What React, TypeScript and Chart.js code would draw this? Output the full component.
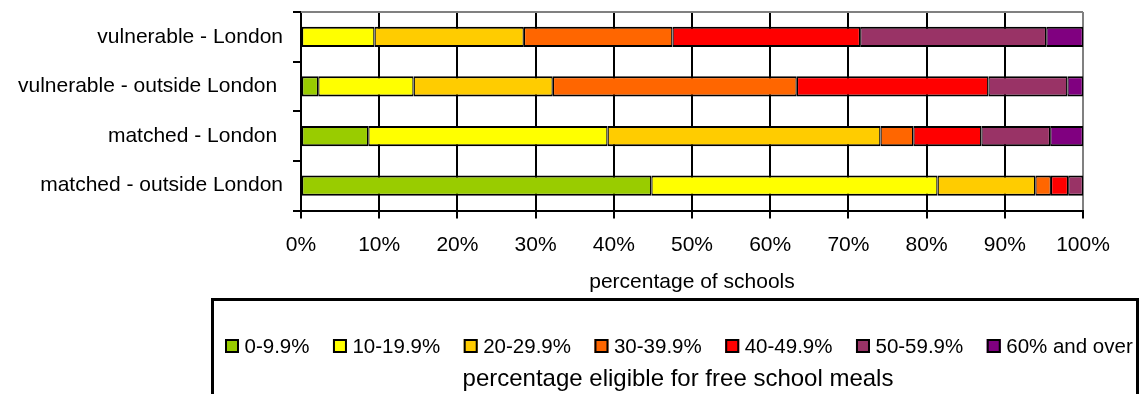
import React, { useEffect, useRef } from "react";
import { Chart, registerables } from "chart.js";

Chart.register(...registerables);

const categories = [
  "vulnerable - London",
  "vulnerable - outside London ",
  "matched - London ",
  "matched - outside London",
];

const bandLabels = [
  "0-9.9%",
  "10-19.9%",
  "20-29.9%",
  "30-39.9%",
  "40-49.9%",
  "50-59.9%",
  "60% and over",
];

const fsm0to9 = [0, 2.2, 8.6, 44.8];
const fsm10to19 = [9.4, 12.2, 30.6, 36.6];
const fsm20to29 = [19.1, 17.8, 34.9, 12.5];
const fsm30to39 = [19.0, 31.2, 4.2, 2.0];
const fsm40to49 = [24.0, 24.5, 8.7, 2.2];
const fsm50to59 = [23.8, 10.1, 8.8, 1.9];
const fsm60plus = [4.7, 2.0, 4.2, 0];

const seriesValues = [fsm0to9, fsm10to19, fsm20to29, fsm30to39, fsm40to49, fsm50to59, fsm60plus];
const bandColors = ["#99CC00", "#FFFF00", "#FFCC00", "#FF6600", "#FF0000", "#993366", "#800080"];

const xTickValues = [0, 10, 20, 30, 40, 50, 60, 70, 80, 90, 100];
const xAxisTitle = "percentage of schools";
const legendTitle = "percentage eligible for free school meals";

const FONT = '"Liberation Sans", Arial, sans-serif';

const frameAndLegend = {
  id: "frameAndLegend",
  beforeDatasetsDraw(chart: any) {
    const { ctx, chartArea } = chart;
    ctx.save();
    ctx.strokeStyle = "#808080";
    ctx.lineWidth = 2;
    ctx.beginPath();
    ctx.moveTo(chartArea.left, chartArea.top);
    ctx.lineTo(chartArea.right, chartArea.top);
    ctx.stroke();
    ctx.restore();
  },
  afterDraw(chart: any) {
    const ctx = chart.ctx;
    ctx.save();
    ctx.strokeStyle = "#000";
    ctx.lineWidth = 3;
    ctx.strokeRect(212.5, 299.5, 925, 150);
    ctx.font = "20.5px " + FONT;
    ctx.textBaseline = "alphabetic";
    ctx.textAlign = "left";
    let x = 225;
    const base = 353;
    chart.data.datasets.forEach((ds: any) => {
      ctx.fillStyle = ds.backgroundColor;
      ctx.fillRect(x, 339, 14, 14);
      ctx.lineWidth = 2;
      ctx.strokeStyle = "#000";
      ctx.strokeRect(x + 1, 340, 12, 12);
      ctx.fillStyle = "#000";
      ctx.fillText(ds.label, x + 19.5, base);
      x += 19.5 + ctx.measureText(ds.label).width + 23.5;
    });
    ctx.font = "24px " + FONT;
    ctx.textAlign = "center";
    ctx.fillText(legendTitle, 678, 386);
    ctx.restore();
  },
};

export default function App() {
  const ref = useRef<HTMLCanvasElement>(null);

  useEffect(() => {
    if (!ref.current) return;
    Chart.defaults.font.family = FONT;
    Chart.defaults.color = "#000";
    const chart = new Chart(ref.current, {
      type: "bar",
      data: {
        labels: categories,
        datasets: bandLabels.map((label, i) => ({
          label,
          data: seriesValues[i],
          backgroundColor: bandColors[i],
          borderColor: "#000",
          borderWidth: { top: 2, bottom: 2, left: 1.3, right: 1.3 },
          borderSkipped: false,
          barPercentage: 0.41,
          categoryPercentage: 1,
        })),
      },
      options: {
        indexAxis: "y",
        responsive: false,
        animation: false,
        layout: { padding: { left: 0, right: 62, top: 12, bottom: 99 } },
        plugins: {
          legend: { display: false },
          tooltip: { enabled: false },
        },
        scales: {
          x: {
            stacked: true,
            min: 0,
            max: 100,
            afterBuildTicks: (scale: any) => {
              scale.ticks = xTickValues.map((v) => ({ value: v }));
            },
            afterFit: (scale: any) => {
              scale.height = 84.5;
              scale.paddingLeft = 0;
              scale.paddingRight = 0;
            },
            ticks: {
              font: { size: 21 },
              color: "#000",
              padding: 14,
              maxRotation: 0,
              autoSkip: false,
              callback: (v: any) => v + "%",
            },
            grid: {
              color: (c: any) => (c.tick && c.tick.value === 100 ? "#808080" : "#000"),
              tickColor: "#000",
              lineWidth: 2,
              tickLength: 8,
            },
            border: { color: "#000", width: 2 },
            title: {
              display: true,
              text: xAxisTitle,
              font: { size: 21 },
              color: "#000",
              padding: { top: 5, bottom: 0 },
            },
          },
          y: {
            stacked: true,
            afterFit: (scale: any) => {
              scale.width = 301;
              scale.paddingTop = 0;
              scale.paddingBottom = 0;
            },
            ticks: {
              font: { size: 21 },
              color: "#000",
              padding: 10,
              autoSkip: false,
            },
            grid: {
              offset: true,
              drawOnChartArea: false,
              drawTicks: true,
              tickLength: 8,
              color: "#000",
              lineWidth: 2,
            },
            border: { color: "#000", width: 2 },
          },
        },
      },
      plugins: [frameAndLegend],
    } as any);
    return () => chart.destroy();
  }, []);

  return (
    <div style={{ position: "absolute", left: 0, top: 0, width: 1145, height: 394 }}>
      <canvas ref={ref} width={1145} height={394} />
    </div>
  );
}
